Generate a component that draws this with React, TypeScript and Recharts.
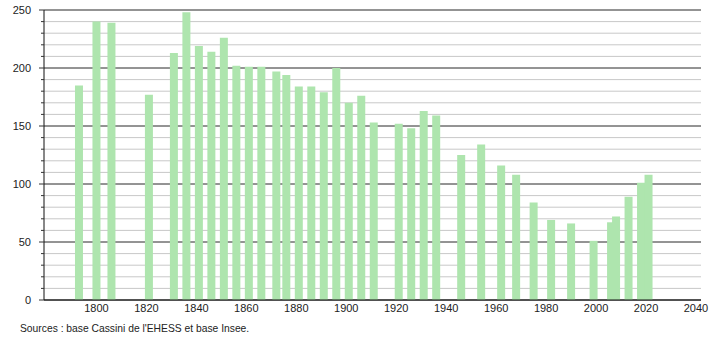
import React from "react";
import { BarChart, Bar, XAxis, YAxis, CartesianGrid, Rectangle } from "recharts";

const years = [1793, 1800, 1806, 1821, 1831, 1836, 1841, 1846, 1851, 1856, 1861, 1866, 1872, 1876, 1881, 1886, 1891, 1896, 1901, 1906, 1911, 1921, 1926, 1931, 1936, 1946, 1954, 1962, 1968, 1975, 1982, 1990, 1999, 2006, 2008, 2013, 2018, 2021];
const population = [185, 240, 239, 177, 213, 248, 219, 214, 226, 202, 201, 201, 197, 194, 184, 184, 179, 200, 170, 176, 153, 152, 148, 163, 159, 125, 134, 116, 108, 84, 69, 66, 51, 67, 72, 89, 101, 108];
const xTicks = [1800, 1820, 1840, 1860, 1880, 1900, 1920, 1940, 1960, 1980, 2000, 2020, 2040];
const yTicks = [0, 10, 20, 30, 40, 50, 60, 70, 80, 90, 100, 110, 120, 130, 140, 150, 160, 170, 180, 190, 200, 210, 220, 230, 240, 250];
const yMajor = [0, 50, 100, 150, 200, 250];
const sourceText = "Sources : base Cassini de l'EHESS et base Insee.";

const data = years.map((y, i) => ({ year: y, pop: population[i] }));

const FONT = "'Liberation Sans', Arial, sans-serif";
const BAR_W = 8;

const YTick = (props: any) => {
  const { x, y, payload } = props;
  const v = payload.value;
  const major = yMajor.includes(v);
  const axisX = x + 13;
  return (
    <g>
      <line x1={axisX - (major ? 5 : 3)} x2={axisX} y1={y} y2={y} stroke="#333" strokeWidth={1} />
      {major && (
        <text x={x} y={y} dy="0.355em" textAnchor="end" fontSize={11} fill="#222" fontFamily={FONT}>
          {v}
        </text>
      )}
    </g>
  );
};

const BarShape = (props: any) => {
  const { x, y, width, height, fill } = props;
  const cx = x + width / 2;
  return <Rectangle x={cx - BAR_W / 2} y={y} width={BAR_W} height={height} fill={fill} />;
};

export default function App() {
  return (
    <div style={{ position: "absolute", left: 0, top: 0, width: 710, height: 340, background: "#fff" }}>
      <BarChart width={710} height={340} data={data} margin={{ top: 10, right: 9, bottom: 20, left: 0 }}>
        <CartesianGrid vertical={false} horizontalValues={yTicks} stroke="#c8c8c8" strokeDasharray="" />
        <CartesianGrid vertical={false} horizontalValues={yMajor} stroke="#444" strokeDasharray="" />
        <XAxis
          type="number"
          dataKey="year"
          domain={[1779, 2042]}
          ticks={xTicks}
          allowDataOverflow
          interval={0}
          tickLine={false}
          tickSize={0}
          tickMargin={4}
          height={20}
          axisLine={{ stroke: "#111" }}
          tick={{ fontSize: 11, fill: "#222", fontFamily: FONT }}
        />
        <YAxis
          type="number"
          domain={[0, 250]}
          ticks={yTicks}
          interval={0}
          width={44}
          tickLine={false}
          tickSize={5}
          tickMargin={8}
          axisLine={{ stroke: "#111" }}
          tick={<YTick />}
        />
        <Bar dataKey="pop" fill="#aee5ae" shape={<BarShape />} isAnimationActive={false} />
      </BarChart>
      <div
        style={{
          position: "absolute",
          left: 20,
          top: 323,
          fontSize: 10.3,
          fontFamily: FONT,
          color: "#222",
          whiteSpace: "nowrap",
        }}
      >
        {sourceText}
      </div>
    </div>
  );
}
